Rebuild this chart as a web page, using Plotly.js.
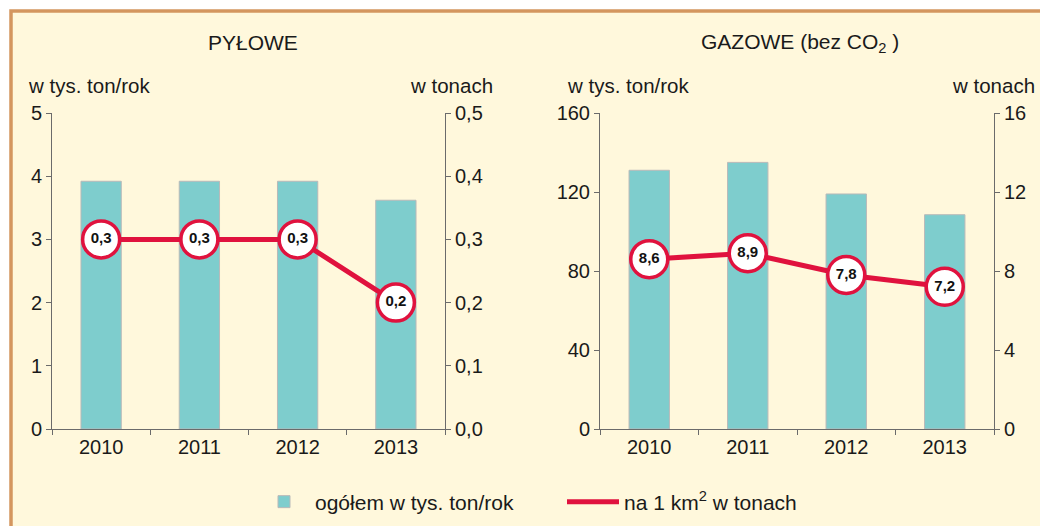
<!DOCTYPE html>
<html>
<head>
<meta charset="utf-8">
<script src="https://cdn.plot.ly/plotly-3.0.1.min.js"></script>
<style>
html,body{margin:0;padding:0;background:#ffffff;}
#chart{width:1040px;height:526px;}
</style>
</head>
<body>
<div id="chart"></div>
<script>
// ---- data ----
const years = ['2010', '2011', '2012', '2013'];
const dustTotal = [3.92, 3.92, 3.92, 3.62];      // PYŁOWE, w tys. ton/rok
const dustPerKm2 = [0.3, 0.3, 0.3, 0.2];         // PYŁOWE, na 1 km2 w tonach
const gasTotal = [131, 135, 119, 108.5];         // GAZOWE, w tys. ton/rok
const gasPerKm2 = [8.6, 8.9, 7.8, 7.2];          // GAZOWE, na 1 km2 w tonach
const titles = ['PYŁOWE', 'GAZOWE (bez CO<sub>2</sub> )'];
const legendNames = ['ogółem w tys. ton/rok', 'na 1 km<sup>2</sup> w tonach'];

// ---- styles ----
const FONT = 'Liberation Sans, Arial, sans-serif';
const BAR = '#7ecdcd';
const RED = '#e0123e';
const AX = '#6b6b6b';
const fmt = v => v.toFixed(1).replace('.', ',');

function barTrace(y, xa, ya, show) {
  return {
    type: 'bar', x: years, y: y, xaxis: xa, yaxis: ya,
    name: legendNames[0], showlegend: show, legendgroup: 'bar',
    marker: {color: BAR, line: {color: '#b9b9b9', width: 1}},
    hoverinfo: 'skip'
  };
}
function lineTrace(y, xa, ya, show) {
  return {
    type: 'scatter', mode: 'lines', x: years, y: y, xaxis: xa, yaxis: ya,
    name: legendNames[1], showlegend: show, legendgroup: 'line',
    line: {color: RED, width: 5},
    cliponaxis: false, hoverinfo: 'skip'
  };
}
function markerTrace(y, xa, ya) {
  return {
    type: 'scatter', mode: 'markers+text', x: years, y: y, xaxis: xa, yaxis: ya,
    name: legendNames[1], showlegend: false, legendgroup: 'line',
    text: y.map(fmt), textposition: 'middle center',
    textfont: {family: FONT, size: 15, color: '#111', weight: 'bold'},
    marker: {symbol: 'circle', size: 37, color: '#ffffff', line: {color: RED, width: 3.5}},
    cliponaxis: false, hoverinfo: 'skip'
  };
}

const data = [
  barTrace(dustTotal, 'x', 'y', true),
  barTrace(gasTotal, 'x2', 'y3', false),
  lineTrace(dustPerKm2, 'x', 'y2', true),
  markerTrace(dustPerKm2, 'x', 'y2'),
  lineTrace(gasPerKm2, 'x2', 'y4', false),
  markerTrace(gasPerKm2, 'x2', 'y4')
];

const yDom = [1 - 429 / 526, 1 - 113 / 526];
const tickFont = {family: FONT, size: 20, color: '#1a1a1a'};
const xCommon = {
  type: 'category', showline: true, linecolor: AX, linewidth: 1,
  ticks: 'outside', tickson: 'boundaries', ticklen: 5, tickcolor: AX,
  tickfont: tickFont, showgrid: false, zeroline: false, fixedrange: true
};
const yCommon = {
  showline: true, linecolor: AX, linewidth: 1, ticks: 'outside', ticklen: 5,
  tickcolor: AX, tickfont: tickFont, showgrid: false, zeroline: false,
  domain: yDom, fixedrange: true
};

const ann = (text, x, y, xanchor, size) => ({
  text: text, x: x, y: y, xref: 'paper', yref: 'paper', xanchor: xanchor, yanchor: 'middle',
  showarrow: false, font: {family: FONT, size: size, color: '#1a1a1a'}
});

const layout = {
  width: 1040, height: 526,
  margin: {l: 0, r: 0, t: 0, b: 0},
  paper_bgcolor: '#ffffff', plot_bgcolor: 'rgba(0,0,0,0)',
  separators: ',.',
  bargap: 0.59,
  font: {family: FONT, color: '#1a1a1a'},
  xaxis: Object.assign({}, xCommon, {domain: [52 / 1040, 445 / 1040], anchor: 'y'}),
  yaxis: Object.assign({}, yCommon, {range: [0, 5], dtick: 1, anchor: 'x'}),
  yaxis2: Object.assign({}, yCommon, {range: [0, 0.5], dtick: 0.1, tickformat: '.1f',
    overlaying: 'y', side: 'right', anchor: 'x'}),
  xaxis2: Object.assign({}, xCommon, {domain: [600 / 1040, 994 / 1040], anchor: 'y3'}),
  yaxis3: Object.assign({}, yCommon, {range: [0, 160], dtick: 40, anchor: 'x2'}),
  yaxis4: Object.assign({}, yCommon, {range: [0, 16], dtick: 4,
    overlaying: 'y3', side: 'right', anchor: 'x2'}),
  showlegend: true,
  legend: {
    orientation: 'h', x: 253 / 1040, xanchor: 'left', y: 1 - 502 / 526, yanchor: 'middle',
    font: {family: FONT, size: 21, color: '#1a1a1a'}, bgcolor: 'rgba(0,0,0,0)',
    itemwidth: 52, traceorder: 'normal', entrywidth: 242
  },
  shapes: [
    {type: 'rect', xref: 'paper', yref: 'paper', x0: 11 / 1040, x1: 1.01, y0: -0.01, y1: 1 - 11 / 526,
     fillcolor: '#fff8dc', line: {color: '#d4965f', width: 3.5}, layer: 'below'}
  ],
  annotations: [
    ann(titles[0], 253 / 1040, 1 - 43 / 526, 'center', 21),
    ann(titles[1], 800 / 1040, 1 - 43 / 526, 'center', 21),
    ann('w tys. ton/rok', 26 / 1040, 1 - 86 / 526, 'left', 20.5),
    ann('w tonach', 495 / 1040, 1 - 86 / 526, 'right', 20.5),
    ann('w tys. ton/rok', 565 / 1040, 1 - 86 / 526, 'left', 20.5),
    ann('w tonach', 1037 / 1040, 1 - 86 / 526, 'right', 20.5)
  ]
};

Plotly.newPlot('chart', data, layout, {displayModeBar: false, staticPlot: true});
</script>
</body>
</html>
